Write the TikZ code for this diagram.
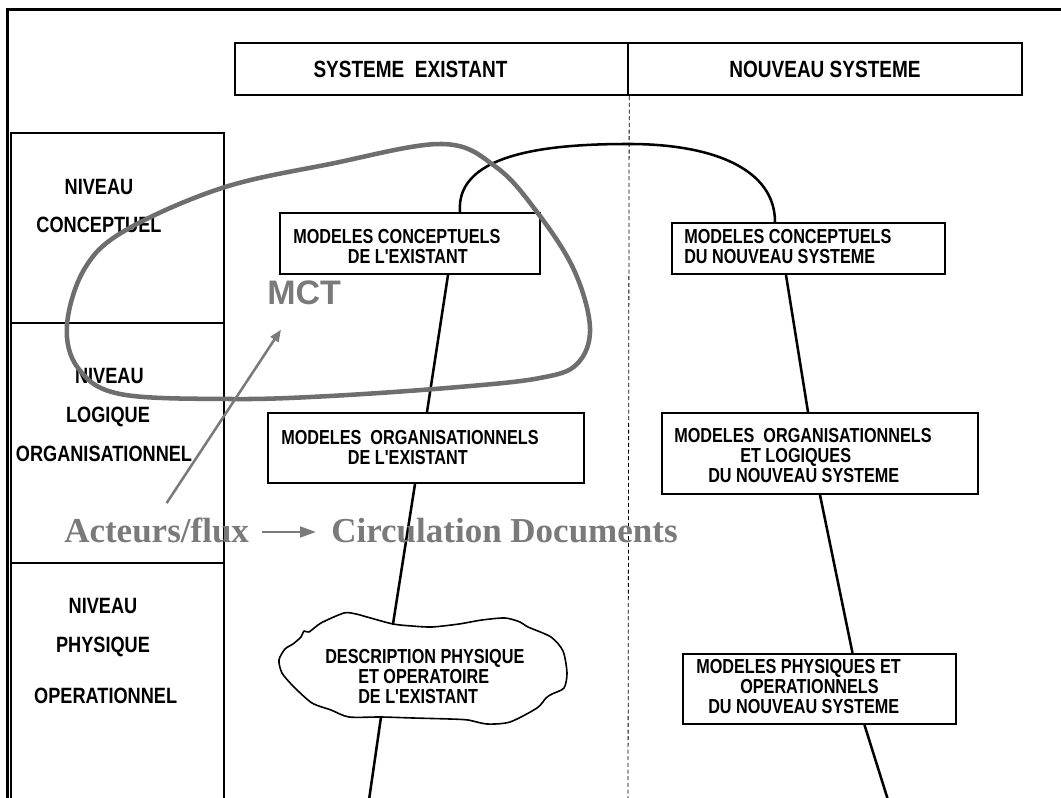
\documentclass[tikz,border=0pt]{standalone}
\usepackage{fontspec}
\setmainfont{Liberation Sans}
\newfontfamily\levelfont{Liberation Sans}[FakeStretch=0.82]
\newfontfamily\modelfont{Liberation Sans}[FakeStretch=0.80]
\newfontfamily\headfont{Liberation Sans}[FakeStretch=0.81]
\newfontfamily\seriffam{Liberation Serif}
\usetikzlibrary{calc,arrows.meta}
\definecolor{loopgray}{HTML}{6E6E6E}
\definecolor{notegray}{HTML}{7A7A7A}
\begin{document}
\begin{tikzpicture}[x=0.75pt,y=-0.75pt,
  box/.style={draw, line width=1.5pt, inner sep=0pt},
  cell/.style={draw, line width=1.6pt, inner sep=0pt, minimum width=159.75pt},
  boxtext/.style={font=\modelfont\bfseries\fontsize{15.2}{15}\selectfont, align=left, inner sep=0pt, anchor=west},
  leveltext/.style={font=\levelfont\bfseries\fontsize{16.6}{29}\selectfont, align=center, inner sep=0pt},
  headtext/.style={font=\headfont\bfseries\fontsize{17.6}{18}\selectfont},
  link/.style={line width=1.9pt, line cap=round},
  note/.style={text=notegray, inner sep=0pt, anchor=base west}]
\clip (0,0) rectangle (1061,798);
\fill[white] (0,0) rectangle (1061,798);

% outer frame (only its top and left sides are in view)
\draw[line width=2.3pt] (7.5,820) -- (7.5,9.5) -- (1080,9.5);

% column headers
\node[box, line width=1.8pt, minimum width=294.75pt, minimum height=39pt, headtext] (hdrL) at (431.5,69)
  {SYSTEME\ \ EXISTANT\hspace*{31.5pt}};
\node[box, line width=1.8pt, minimum width=295.5pt, minimum height=39pt, headtext] (hdrR) at (825,69)
  {NOUVEAU SYSTEME};
\coordinate (divend) at (628,800);
\draw[line width=0.6pt, dash pattern=on 3pt off 2pt] (hdrL.south east) -- (divend);

% level column
\node[cell, minimum height=142.5pt] (lvl1) at (117.5,228) {};
\node[cell, minimum height=180pt] (lvl2) at (117.5,443) {};
\node[cell, minimum height=186.75pt] (lvl3) at (117.5,687.5) {};
\node[leveltext] (lvl1t) at (99,206) {NIVEAU\\CONCEPTUEL};
\node[leveltext] (lvl2t) at (104,415) {\hspace*{8pt}NIVEAU\\\hspace*{6pt}LOGIQUE\\ORGANISATIONNEL};
\node[leveltext] (lvl3t) at (103,651) {NIVEAU\\PHYSIQUE\\[9pt]\hspace*{4pt}OPERATIONNEL};

% model boxes
\node[box, minimum width=195pt, minimum height=45.75pt] (mce) at (410,243.5) {};
\node[box, minimum width=237pt, minimum height=52.5pt] (moe) at (426,448) {};
\node[box, minimum width=204.75pt, minimum height=38.25pt] (mcn) at (808,248.5) {};
\node[box, minimum width=237pt, minimum height=60.75pt] (moln) at (820,453.5) {};
\node[box, minimum width=204.75pt, minimum height=52.5pt] (mpn) at (819.5,689) {};

\node[boxtext] (mcet) at (293,246.5) {MODELES CONCEPTUELS\\\hspace*{41pt}DE L'EXISTANT};
\node[boxtext] (moet) at (281,447.5) {MODELES\ \ ORGANISATIONNELS\\\hspace*{50pt}DE L'EXISTANT};
\node[boxtext] (mcnt) at (684,246.5) {MODELES CONCEPTUELS\\DU NOUVEAU SYSTEME};
\node[boxtext] (molnt) at (674,456) {MODELES\ \ ORGANISATIONNELS\\\hspace*{49.5pt}ET LOGIQUES\\\hspace*{25.5pt}DU NOUVEAU SYSTEME};
\node[boxtext] (mpnt) at (696,687) {MODELES PHYSIQUES ET\\\hspace*{33pt}OPERATIONNELS\\\hspace*{9pt}DU NOUVEAU SYSTEME};

% hand-drawn outline around the physical description
\draw[line width=1.2pt, line join=round] plot[smooth cycle, tension=0.45] coordinates {
  (279,660) (285,649) (293,644) (301,637) (304,631) (309,632) (321,623) (344,613) (356,614)
  (367,617) (393,624) (412,626) (432,627) (459,624) (482,620) (505,618) (520,622) (528,627)
  (551,637) (563,651) (567,673) (564,688) (552,694) (546,698) (537,708) (510,722) (487,724)
  (468,720) (450,719) (413,718) (381,717) (349,717) (331,710) (312,703) (294,687) (282,673)};
\node[boxtext] (cloudt) at (325,677) {DESCRIPTION PHYSIQUE\\\hspace*{24.75pt}ET OPERATOIRE\\\hspace*{24.75pt}DE L'EXISTANT};
\coordinate (cloudtop) at (393,624);
\coordinate (cloudbot) at (381,717);
\coordinate (leftend) at (369,800);
\coordinate (rightend) at (888,800);

% links between the models
\draw[link] ($(mce.north)+(50,0)$) .. controls (455,150) and (560,144) .. (629,144)
  .. controls (715,144) and (775,170) .. ($(mcn.north)+(-33,0)$);
\draw[link] ($(mce.south)+(38,0)$) -- ($(moe.north)+(1,0)$);
\draw[link] ($(moe.south)+(-11,0)$) -- (cloudtop);
\draw[link] (cloudbot) -- (leftend);
\draw[link] ($(mcn.south)+(-22,0)$) -- ($(moln.north)+(-12,0)$);
\draw[link] (moln.south) -- ($(mpn.north)+(33,0)$);
\draw[link] ($(mpn.south)+(45,0)$) -- (rightend);

% annotations
\draw[loopgray, line width=3.4pt] plot[smooth cycle, tension=0.6] coordinates {
  (442,144) (496,167) (537,212) (574,270) (590,328) (577,364) (540,378) (459,387)
  (330,396) (230,399) (120,394) (78,368) (67,325) (85,268) (126,230) (222,188) (330,164)};
\node[note, font=\bfseries\fontsize{25.5}{28}\selectfont] (mct) at (267,305) {MCT};
\node[note, font=\seriffam\bfseries\fontsize{26.25}{30}\selectfont] (acteurs) at (64,543) {Acteurs/flux};
\node[note, font=\seriffam\bfseries\fontsize{26.25}{30}\selectfont] (circ) at (331,543) {Circulation Documents};
\draw[notegray, line width=2pt, -{Triangle[length=12pt,width=8pt]}, shorten <=9.75pt, shorten >=11.25pt]
  ($(acteurs.base east)+(0,-11)$) -- ($(circ.base west)+(0,-11)$);
\draw[notegray, line width=1.9pt, -{Triangle[length=9pt,width=7pt]}]
  ($(acteurs.north)+(10,-15)$) -- ($(mct.south west)+(14,24)$);
\end{tikzpicture}
\end{document}
